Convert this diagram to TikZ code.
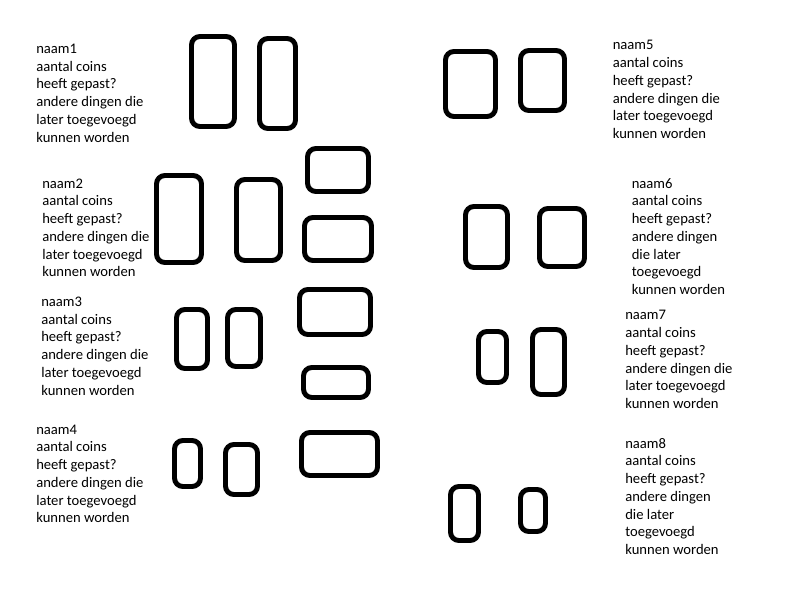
\documentclass[tikz,border=0pt]{standalone}
\usepackage{fontspec}
\setmainfont{Carlito}
\begin{document}
\begin{tikzpicture}[x=0.025cm,y=-0.025cm,
  box/.style={draw=black,line width=3.5pt,rounded corners=6pt},
  info/.style={anchor=north west,inner sep=0pt,align=left,font=\fontsize{10.4}{12.6}\selectfont}]
\useasboundingbox[fill=white] (0,0) rectangle (800,600);
% text blocks
\node[info] (t1) at (36,40.8) {\strut naam1\\aantal coins\\heeft gepast?\\andere dingen die\\later toegevoegd\\kunnen worden};
\node[info] (t2) at (42,175.5) {\strut naam2\\aantal coins\\heeft gepast?\\andere dingen die\\later toegevoegd\\kunnen worden};
\node[info] (t3) at (41,293.8) {\strut naam3\\aantal coins\\heeft gepast?\\andere dingen die\\later toegevoegd\\kunnen worden};
\node[info] (t4) at (36,421.5) {\strut naam4\\aantal coins\\heeft gepast?\\andere dingen die\\later toegevoegd\\kunnen worden};
\node[info] (t5) at (612.5,37.2) {\strut naam5\\aantal coins\\heeft gepast?\\andere dingen die\\later toegevoegd\\kunnen worden};
\node[info] (t6) at (631.5,175.5) {\strut naam6\\aantal coins\\heeft gepast?\\andere dingen\\die later\\toegevoegd\\kunnen worden};
\node[info] (t7) at (625,307.2) {\strut naam7\\aantal coins\\heeft gepast?\\andere dingen die\\later toegevoegd\\kunnen worden};
\node[info] (t8) at (625,435.5) {\strut naam8\\aantal coins\\heeft gepast?\\andere dingen\\die later\\toegevoegd\\kunnen worden};
% rectangles
\draw[box] (191.5,36.5) rectangle (234.5,126.5);
\draw[box] (259.5,38.5) rectangle (295.5,128.5);
\draw[box] (156.5,175.5) rectangle (201.5,262.5);
\draw[box] (236.5,179.5) rectangle (280.5,260.5);
\draw[box] (307.5,148.5) rectangle (368.5,191.5);
\draw[box] (304.5,217.5) rectangle (371.5,260.5);
\draw[box] (176.5,309.5) rectangle (207.5,368.5);
\draw[box] (227.5,309.5) rectangle (260.5,366.5);
\draw[box] (299.5,289.5) rectangle (370.5,334.5);
\draw[box] (303.5,367.5) rectangle (368.5,397.5);
\draw[box] (174.5,440.5) rectangle (200.5,486.5);
\draw[box] (225.5,444.5) rectangle (257.5,494.5);
\draw[box] (301.5,432.5) rectangle (377.5,475.5);
\draw[box] (445.5,51.5) rectangle (495.5,116.5);
\draw[box] (520.5,50.5) rectangle (564.5,110.5);
\draw[box] (465.5,206.5) rectangle (507.5,267.5);
\draw[box] (539.5,208.5) rectangle (584.5,266.5);
\draw[box] (478.5,331.5) rectangle (506.5,382.5);
\draw[box] (532.5,329.5) rectangle (564.5,394.5);
\draw[box] (450.5,486.5) rectangle (478.5,540.5);
\draw[box] (520.5,489.5) rectangle (545.5,531.5);
\end{tikzpicture}
\end{document}
